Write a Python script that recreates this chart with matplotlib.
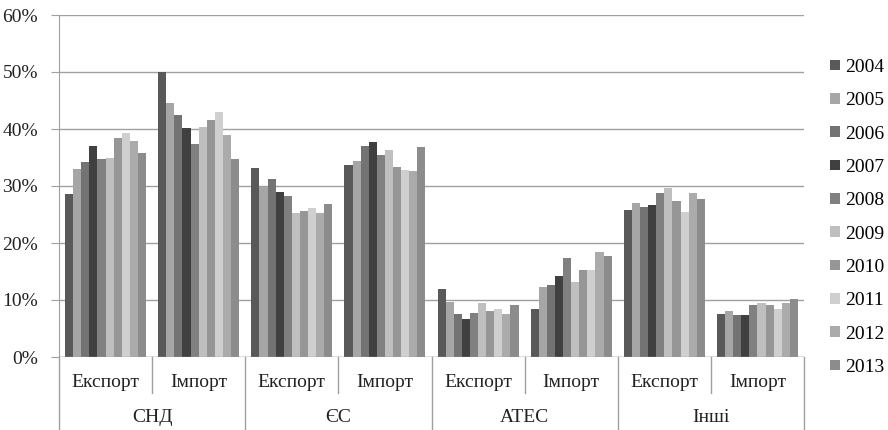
import matplotlib.pyplot as plt
import matplotlib.transforms as mtransforms
import numpy as np

plt.rcParams['font.family'] = ['Liberation Serif', 'DejaVu Serif']

years = ['2004', '2005', '2006', '2007', '2008', '2009', '2010', '2011', '2012', '2013']
regions = ['СНД', 'ЄС', 'АТЕС', 'Інші']
flows = ['Експорт', 'Імпорт']

# shares, % (rows: groups in order region/flow, columns: years)
cis_export = [28.6, 32.9, 34.2, 37.1, 34.7, 35.0, 38.4, 39.3, 37.9, 35.8]
cis_import = [50.0, 44.6, 42.5, 40.2, 37.3, 40.4, 41.6, 43.0, 38.9, 34.7]
eu_export = [33.1, 29.9, 31.3, 29.0, 28.3, 25.3, 25.6, 26.2, 25.3, 26.8]
eu_import = [33.6, 34.4, 37.0, 37.8, 35.4, 36.4, 33.4, 32.8, 32.6, 36.8]
apec_export = [12.0, 9.6, 7.6, 6.6, 7.7, 9.4, 8.1, 8.5, 7.6, 9.1]
apec_import = [8.4, 12.3, 12.6, 14.2, 17.4, 13.2, 15.2, 15.3, 18.4, 17.8]
other_export = [25.8, 27.1, 26.3, 26.7, 28.8, 29.7, 27.3, 25.5, 28.7, 27.7]
other_import = [7.5, 8.1, 7.3, 7.3, 9.2, 9.5, 9.2, 8.4, 9.5, 10.1]

data = np.array([cis_export, cis_import, eu_export, eu_import,
                 apec_export, apec_import, other_export, other_import])

colors = ['#595959', '#a6a6a6', '#737373', '#404040', '#808080',
          '#bfbfbf', '#969696', '#cfcfcf', '#ababab', '#8c8c8c']

fig = plt.figure(figsize=(8.88, 4.30), dpi=100)
ax = fig.add_axes([59 / 888, 73 / 430, 745 / 888, 342 / 430])

n_groups = data.shape[0]
x = np.arange(n_groups)
w = 0.087
for i, yr in enumerate(years):
    ax.bar(x - 0.435 + w * (i + 0.5), data[:, i], width=w, color=colors[i],
           label=yr, zorder=3)

ax.set_xlim(-0.5, n_groups - 0.5)
ax.set_ylim(0, 60)
ax.set_yticks(np.arange(0, 61, 10))
ax.set_yticklabels([f'{v}%' for v in range(0, 61, 10)], fontsize=14)
ax.yaxis.grid(True, color='#a0a0a0', linewidth=1, zorder=0)
ax.set_xticks([])
for s in ['top', 'right', 'bottom']:
    ax.spines[s].set_visible(False)
ax.spines['left'].set_color('#a0a0a0')
ax.tick_params(axis='y', length=6, pad=9, color='#a0a0a0', labelcolor='#222222')
ax.axhline(0, color='#a0a0a0', linewidth=1, zorder=4)

# two-level category axis
trans = mtransforms.blended_transform_factory(ax.transData, ax.transAxes)
for i in range(n_groups):
    ax.text(i, -0.076, flows[i % 2], transform=trans, ha='center', va='center',
            fontsize=14, color='#222222')
for j, reg in enumerate(regions):
    ax.text(2 * j + 0.5, -0.178, reg, transform=trans, ha='center', va='center',
            fontsize=14, color='#222222')
for b in np.arange(-0.5, n_groups, 1.0):
    bottom = -0.22 if (b + 0.5) % 2 == 0 else -0.105
    ax.plot([b, b], [0, bottom], transform=trans, color='#a0a0a0',
            linewidth=1, clip_on=False)

ax.legend(loc='center left', bbox_to_anchor=(1.035, 0.408), frameon=False,
          fontsize=14, handlelength=0.5, handleheight=0.45, handletextpad=0.25,
          labelspacing=0.84, borderaxespad=0, borderpad=0)

fig.savefig('out.png', dpi=100)
